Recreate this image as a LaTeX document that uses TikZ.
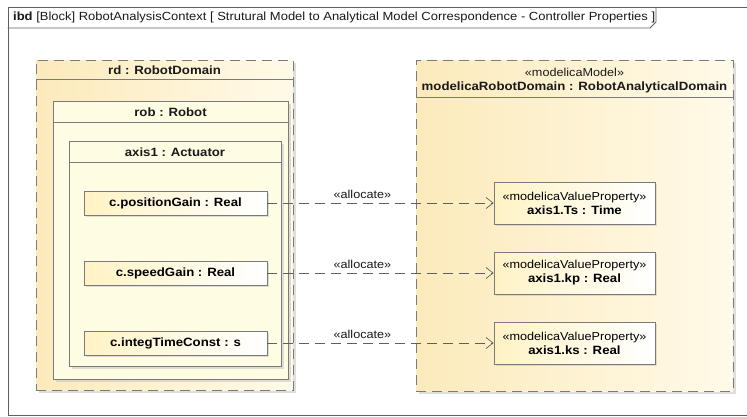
\documentclass[tikz,border=0pt]{standalone}
\usepackage{fontspec}
\setmainfont{Liberation Sans}[FakeStretch=1.1]
\usepackage{xcolor}
\usepackage{tikz}
\usetikzlibrary{arrows.meta,positioning,calc,shadows}
\definecolor{ibdLine}{HTML}{7A7A7A}
\definecolor{ibdInk}{HTML}{1A1A1A}
\definecolor{ibdDeep}{HTML}{FCEABB}
\definecolor{ibdPale}{HTML}{FFFAE8}
\definecolor{ibdCream}{HTML}{FFFCE4}
\definecolor{ibdPart}{HTML}{FFF3C4}
\tikzset{
  ibdFrame/.style={
    rectangle,
    draw=ibdInk!70,
    line width=0.8pt
  },
  domainBox/.style={
    rectangle,
    draw=ibdLine,
    dash pattern=on 10pt off 6pt,
    line width=0.8pt,
    left color=ibdDeep,
    right color=ibdPale,
    drop shadow={shadow xshift=3pt,shadow yshift=-3pt,fill=black!25}
  },
  partBox/.style={
    rectangle,
    draw=ibdLine,
    line width=0.8pt,
    fill=ibdCream,
    drop shadow={shadow xshift=3pt,shadow yshift=-3pt,fill=black!25}
  },
  propBox/.style={
    rectangle,
    draw=ibdLine,
    line width=0.8pt,
    left color=ibdPart,
    right color=white,
    align=center,
    font=\fontsize{12}{14}\selectfont\bfseries,
    drop shadow={shadow xshift=2pt,shadow yshift=-2pt,fill=black!25}
  },
  headLabel/.style={
    font=\fontsize{12}{14}\selectfont\bfseries,
    text=ibdInk,
    inner sep=0pt
  },
  compLine/.style={
    draw=ibdLine,
    line width=0.8pt
  },
  allocArrow/.style={
    -{Straight Barb[length=7pt,width=11pt]},
    dash pattern=on 10pt off 6pt,
    line width=0.7pt,
    draw=ibdInk!70
  },
  allocLabel/.style={
    font=\fontsize{11.5}{13}\selectfont,
    text=ibdInk,
    inner sep=2pt
  }
}

\begin{document}
\begin{tikzpicture}[x=1pt,y=-1pt]
  \useasboundingbox (0,0) rectangle (747,416);
  \fill[white] (0,0) rectangle (747,416);
  % frame and its tab
  \node[ibdFrame,minimum width=750pt,minimum height=408pt] (frame) at (383,211) {};
  \node[anchor=west,inner sep=0pt,font=\fontsize{11.8}{13}\selectfont,text=ibdInk] (tab) at (13,17.5)
    {\textbf{ibd} [Block] RobotAnalysisContext [ Strutural Model to Analytical Model Correspondence - Controller Properties ]};
  \draw[ibdFrame] (frame.west |- 0,28) -- (650,28) -- (656,22) -- (656,7);

  % structural side
  \node[domainBox,minimum width=257pt,minimum height=330pt] (rd) at (164.5,225) {};
  \draw[compLine] ($(rd.north west)+(0,20)$) -- ($(rd.north east)+(0,20)$);
  \node[headLabel] (rdName) at (164.5,70) {rd : RobotDomain};

  \node[partBox,minimum width=235pt,minimum height=278pt] (rob) at (170.5,240) {};
  \draw[compLine] ($(rob.north west)+(0,22)$) -- ($(rob.north east)+(0,22)$);
  \node[headLabel] (robName) at (170.5,112) {rob : Robot};

  \node[partBox,minimum width=212pt,minimum height=225pt] (axis) at (175,253.5) {};
  \draw[compLine] ($(axis.north west)+(0,22)$) -- ($(axis.north east)+(0,22)$);
  \node[headLabel] (axisName) at (175,152) {axis1 : Actuator};

  \node[propBox,minimum width=183pt,minimum height=24pt] (posGain) at (175.5,203) {c.positionGain : Real};
  \node[propBox,minimum width=183pt,minimum height=24pt] (speedGain) at (175.5,273) {c.speedGain : Real};
  \node[propBox,minimum width=183pt,minimum height=24pt] (integConst) at (175.5,343) {c.integTimeConst : s};

  % analytical side
  \node[domainBox,minimum width=317pt,minimum height=331pt] (model) at (574.5,225.5) {};
  \draw[compLine] ($(model.north west)+(0,38)$) -- ($(model.north east)+(0,38)$);
  \node[allocLabel,inner sep=0pt] (modelStereo) at (574.5,72) {«modelicaModel»};
  \node[headLabel] (modelName) at (574.5,87) {modelicaRobotDomain : RobotAnalyticalDomain};

  \node[propBox,minimum width=161pt,minimum height=42pt] (axisTs) at (574.5,203)
    {{\mdseries\fontsize{11.5}{13}\selectfont «modelicaValueProperty»}\\axis1.Ts : Time};
  \node[propBox,minimum width=161pt,minimum height=42pt] (axisKp) at (574.5,273)
    {{\mdseries\fontsize{11.5}{13}\selectfont «modelicaValueProperty»}\\axis1.kp : Real};
  \node[propBox,minimum width=161pt,minimum height=42pt] (axisKs) at (574.5,343)
    {{\mdseries\fontsize{11.5}{13}\selectfont «modelicaValueProperty»}\\axis1.ks : Real};

  % allocations
  \draw[allocArrow] (posGain.east) -- (axisTs.west) node[allocLabel,pos=0.42,above=2pt] (allocTs) {«allocate»};
  \draw[allocArrow] (speedGain.east) -- (axisKp.west) node[allocLabel,pos=0.42,above=2pt] (allocKp) {«allocate»};
  \draw[allocArrow] (integConst.east) -- (axisKs.west) node[allocLabel,pos=0.42,above=2pt] (allocKs) {«allocate»};
\end{tikzpicture}
\end{document}
